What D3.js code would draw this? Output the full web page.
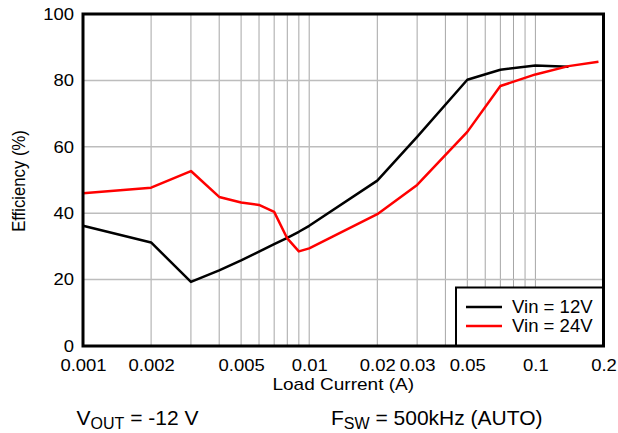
<!DOCTYPE html>
<html>
<head>
<meta charset="utf-8">
<script src="https://cdn.jsdelivr.net/npm/d3@7"></script>
<style>
  html, body { margin: 0; padding: 0; background: #fff; }
  svg { display: block; font-family: "Liberation Sans", Arial, sans-serif; }
</style>
</head>
<body>
<svg id="chart" width="618" height="433"></svg>
<script>
const xTickValues = [0.001, 0.002, 0.005, 0.01, 0.02, 0.03, 0.05, 0.1, 0.2];
const xTickLabels = ["0.001", "0.002", "0.005", "0.01", "0.02", "0.03", "0.05", "0.1", "0.2"];
const yTickValues = [0, 20, 40, 60, 80, 100];
const xGridValues = [0.001,0.002,0.003,0.004,0.005,0.006,0.007,0.008,0.009,
                     0.01,0.02,0.03,0.04,0.05,0.06,0.07,0.08,0.09,0.1,0.2];

const load12 = [0.001, 0.002, 0.003, 0.004, 0.005, 0.006, 0.007, 0.008, 0.009, 0.01, 0.02, 0.03, 0.05, 0.07, 0.1, 0.14];
const eff12  = [36.2, 31.2, 19.3, 22.8, 25.8, 28.4, 30.7, 32.6, 34.4, 36.2, 49.8, 63.0, 80.2, 83.2, 84.5, 84.1];

const load24 = [0.001, 0.002, 0.003, 0.004, 0.005, 0.006, 0.007, 0.008, 0.009, 0.01, 0.02, 0.03, 0.05, 0.07, 0.1, 0.14, 0.19];
const eff24  = [46.0, 47.7, 52.7, 44.9, 43.2, 42.5, 40.4, 32.4, 28.5, 29.4, 39.7, 48.5, 64.5, 78.3, 81.8, 84.3, 85.6];

const seriesNames = ["Vin = 12V", "Vin = 24V"];
const seriesColors = ["#000000", "#ff0000"];

const svg = d3.select("#chart");
const pL = 83, pR = 603.5, pT = 14, pB = 346;
const SX = 1.12; // horizontal stretch of lettering seen in the reference

const x = d3.scaleLog().domain([0.001, 0.2]).range([pL, pR]);
const y = d3.scaleLinear().domain([0, 100]).range([pB, pT]);

// grid
const grid = svg.append("g");
grid.selectAll("line.v").data(xGridValues).join("line").attr("class", "v")
  .attr("x1", d => x(d)).attr("x2", d => x(d))
  .attr("y1", pT).attr("y2", pB)
  .attr("stroke", "#a6a6a6").attr("stroke-width", 1);
grid.selectAll("line.h").data(yTickValues.slice(1, -1)).join("line").attr("class", "h")
  .attr("x1", pL).attr("x2", pR)
  .attr("y1", d => y(d)).attr("y2", d => y(d))
  .attr("stroke", "#bdbdbd").attr("stroke-width", 1.5);

// data lines
const line = d3.line().x(d => x(d[0])).y(d => y(d[1]));
const data = [d3.zip(load12, eff12), d3.zip(load24, eff24)];
svg.append("g").selectAll("path").data(data).join("path")
  .attr("d", line)
  .attr("fill", "none")
  .attr("stroke", (d, i) => seriesColors[i])
  .attr("stroke-width", 2.5)
  .attr("stroke-linejoin", "round");

// legend
const lg = svg.append("g");
lg.append("rect").attr("x", 456).attr("y", 287.5).attr("width", pR - 456).attr("height", pB - 287.5)
  .attr("fill", "#fff").attr("stroke", "#000").attr("stroke-width", 2);
seriesNames.forEach((name, i) => {
  const yy = 307 + i * 19;
  lg.append("line").attr("x1", 466).attr("x2", 502).attr("y1", yy).attr("y2", yy)
    .attr("stroke", seriesColors[i]).attr("stroke-width", 2.5);
  lg.append("text").attr("transform", `translate(512,${yy + 6.3}) scale(1.06,1)`)
    .attr("font-size", 17.5).attr("fill", "#000").text(name);
});

// frame
svg.append("rect").attr("x", pL).attr("y", pT).attr("width", pR - pL).attr("height", pB - pT)
  .attr("fill", "none").attr("stroke", "#000").attr("stroke-width", 3);

// axes
const xAxis = d3.axisBottom(x).tickValues(xTickValues).tickSize(0).tickPadding(13)
  .tickFormat((d, i) => xTickLabels[i]);
const gx = svg.append("g").attr("transform", `translate(0,${pB})`).call(xAxis);
gx.select(".domain").remove();
gx.selectAll("text").attr("font-size", 16.5).attr("fill", "#000")
  .attr("font-family", "Liberation Sans, Arial, sans-serif")
  .attr("transform", `scale(${SX},1)`);

const yPad = 9;
const yAxis = d3.axisLeft(y).tickValues(yTickValues).tickSize(0).tickPadding(yPad);
const gy = svg.append("g").attr("transform", `translate(${pL},0)`).call(yAxis);
gy.select(".domain").remove();
gy.selectAll("text").attr("font-size", 16.5).attr("fill", "#000")
  .attr("font-family", "Liberation Sans, Arial, sans-serif")
  .attr("x", -yPad / SX)
  .attr("transform", `scale(${SX},1)`);

// axis titles
svg.append("text").attr("transform", `translate(${(pL + pR) / 2},390) scale(1.12,1)`)
  .attr("text-anchor", "middle").attr("font-size", 17).text("Load Current (A)");
svg.append("text").attr("transform", `translate(24.5,${(pT + pB) / 2 + 1}) scale(${SX},1) rotate(-90)`)
  .attr("text-anchor", "middle").attr("font-size", 16.7).text("Efficiency (%)");

// conditions
const t1 = svg.append("text").attr("x", 76.5).attr("y", 425).attr("font-size", 21);
t1.append("tspan").text("V");
t1.append("tspan").attr("font-size", 16).attr("dy", 4).text("OUT");
t1.append("tspan").attr("dy", -4).text(" = -12 V");
const t2 = svg.append("text").attr("x", 331).attr("y", 425).attr("font-size", 21);
t2.append("tspan").text("F");
t2.append("tspan").attr("font-size", 16).attr("dy", 4).text("SW");
t2.append("tspan").attr("dy", -4).text(" = 500kHz (AUTO)");
</script>
</body>
</html>
